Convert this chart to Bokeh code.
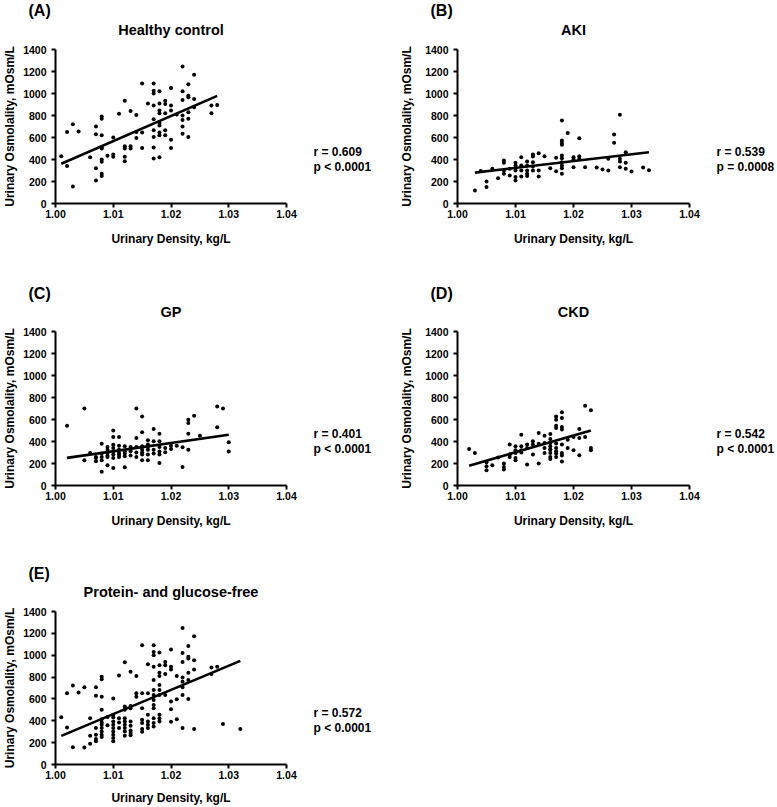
from bokeh.plotting import figure
from bokeh.models import Range1d, FixedTicker, PrintfTickFormatter
from bokeh.core.properties import value
from bokeh.layouts import column, row
from bokeh.embed import file_html
from bokeh.resources import INLINE

# ---------------- data ----------------
X_TICKS = [1.00, 1.01, 1.02, 1.03, 1.04]
Y_TICKS = [0, 200, 400, 600, 800, 1000, 1200, 1400]
X_LABEL = "Urinary Density, kg/L"
Y_LABEL = "Urinary Osmolality, mOsm/L"

# (A) Healthy control
hc_x = [1.001, 1.002, 1.002, 1.003, 1.003, 1.004, 1.006, 1.007, 1.007, 1.007, 1.007,
        1.008, 1.008, 1.008, 1.008, 1.008, 1.008, 1.008, 1.008, 1.008, 1.009,
        1.010, 1.010, 1.010, 1.011, 1.012, 1.012, 1.012, 1.012, 1.012,
        1.013, 1.013, 1.013, 1.014, 1.014, 1.014, 1.015, 1.015, 1.015, 1.016,
        1.017, 1.017, 1.017, 1.017, 1.017, 1.017, 1.017, 1.017, 1.017,
        1.018, 1.018, 1.018, 1.018, 1.018, 1.018, 1.018, 1.018, 1.018,
        1.019, 1.019, 1.019, 1.019, 1.019, 1.020, 1.020, 1.020, 1.020, 1.020, 1.021,
        1.022, 1.022, 1.022, 1.022, 1.022, 1.022, 1.022,
        1.023, 1.023, 1.023, 1.023, 1.023, 1.023, 1.024, 1.024, 1.024,
        1.027, 1.027, 1.028]
hc_y = [430, 340, 650, 720, 155, 655, 420, 700, 630, 320, 210,
        790, 770, 620, 510, 500, 400, 380, 270, 250, 435,
        600, 445, 425, 815, 935, 520, 500, 425, 385,
        840, 520, 500, 805, 650, 595, 1090, 645, 505, 910,
        1090, 1025, 1000, 890, 765, 665, 605, 510, 410,
        1020, 910, 845, 820, 735, 710, 645, 620, 420,
        935, 905, 820, 665, 620, 1050, 890, 845, 580, 505, 810,
        1245, 1020, 940, 800, 760, 700, 635,
        1085, 980, 965, 830, 770, 605, 1170, 950, 875,
        890, 820, 895]
hc_fit_x = [1.001, 1.028]
hc_fit_y = [361, 978]

# (B) AKI
aki_x = [1.003, 1.004, 1.005, 1.005, 1.006, 1.007, 1.008, 1.008, 1.008, 1.008, 1.009, 1.009,
         1.010, 1.010, 1.010, 1.010, 1.010, 1.010, 1.011, 1.011, 1.011, 1.011,
         1.012, 1.012, 1.012, 1.012, 1.012, 1.013, 1.013, 1.013, 1.013, 1.013,
         1.014, 1.014, 1.014, 1.015, 1.016, 1.017, 1.017,
         1.018, 1.018, 1.018, 1.018, 1.018, 1.018, 1.018, 1.018, 1.018, 1.018,
         1.019, 1.020, 1.020, 1.020, 1.021, 1.021, 1.021, 1.022, 1.024, 1.025,
         1.026, 1.026, 1.027, 1.027, 1.028, 1.028, 1.028, 1.028, 1.029, 1.029, 1.029,
         1.030, 1.032, 1.033]
aki_y = [118, 295, 200, 149, 315, 230, 391, 370, 300, 270, 315, 255,
         370, 345, 320, 300, 240, 210, 421, 345, 300, 245,
         382, 345, 300, 270, 250, 445, 427, 376, 336, 300,
         457, 300, 245, 430, 321, 415, 294,
         755, 573, 551, 533, 436, 412, 376, 345, 321, 270,
         642, 421, 400, 330, 594, 430, 406, 330, 327, 309,
         406, 300, 627, 552, 806, 406, 382, 330, 466, 370, 315,
         291, 327, 303]
aki_fit_x = [1.003, 1.033]
aki_fit_y = [281, 466]

# (C) GP
gp_x = [1.002, 1.005, 1.005, 1.006, 1.007, 1.007, 1.007,
        1.008, 1.008, 1.008, 1.008, 1.008,
        1.009, 1.009, 1.009, 1.009, 1.009, 1.009,
        1.010, 1.010, 1.010, 1.010, 1.010, 1.010, 1.010, 1.010,
        1.011, 1.011, 1.011, 1.011, 1.011, 1.011,
        1.012, 1.012, 1.012, 1.012, 1.012,
        1.013, 1.013, 1.013, 1.013,
        1.014, 1.014, 1.014, 1.014, 1.014,
        1.015, 1.015, 1.015, 1.015, 1.015, 1.015, 1.015,
        1.016, 1.016, 1.016, 1.016, 1.016, 1.016,
        1.017, 1.017, 1.017, 1.017,
        1.018, 1.018, 1.018, 1.018, 1.018, 1.018,
        1.019, 1.019, 1.020, 1.020, 1.021, 1.022, 1.022,
        1.023, 1.023, 1.023, 1.023, 1.024, 1.025,
        1.028, 1.028, 1.029, 1.030, 1.030]
gp_y = [544, 701, 230, 296, 260, 220, 250,
        380, 260, 230, 124, 290,
        350, 326, 296, 260, 184, 270,
        501, 441, 370, 341, 311, 281, 251, 160,
        441, 362, 326, 296, 260, 280,
        356, 311, 266, 166, 290,
        350, 311, 272, 330,
        701, 432, 350, 260, 300,
        628, 483, 356, 326, 281, 230, 300,
        411, 372, 326, 281, 230, 350,
        514, 402, 326, 290,
        471, 402, 350, 281, 205, 310,
        341, 302, 362, 332, 362, 347, 169,
        598, 568, 471, 326, 634, 453,
        719, 529, 701, 393, 308]
gp_fit_x = [1.002, 1.030]
gp_fit_y = [251, 462]

# (D) CKD
ckd_x = [1.002, 1.003, 1.005, 1.005, 1.005, 1.006, 1.007,
         1.008, 1.008, 1.008, 1.009, 1.009, 1.009,
         1.010, 1.010, 1.010, 1.010, 1.010,
         1.011, 1.011, 1.011, 1.011, 1.012, 1.012, 1.012,
         1.013, 1.013, 1.013, 1.014, 1.014, 1.014,
         1.015, 1.015, 1.015, 1.015,
         1.016, 1.016, 1.016, 1.016, 1.016, 1.016, 1.016, 1.016, 1.016,
         1.017, 1.017, 1.017, 1.017, 1.017, 1.017, 1.017, 1.017, 1.017,
         1.018, 1.018, 1.018, 1.018, 1.018, 1.018, 1.018, 1.018,
         1.019, 1.019, 1.020, 1.020, 1.021, 1.021, 1.021,
         1.022, 1.022, 1.023, 1.023, 1.023]
ckd_y = [332, 296, 211, 175, 139, 184, 254,
         199, 169, 145, 372, 281, 260,
         356, 320, 296, 251, 230,
         462, 356, 320, 300, 372, 341, 190,
         402, 372, 281, 477, 380, 199,
         453, 387, 341, 296,
         468, 423, 387, 356, 330, 326, 296, 260, 242,
         628, 598, 544, 523, 381, 341, 311, 290, 260,
         665, 613, 532, 508, 372, 296, 272, 218,
         417, 341, 441, 320, 514, 432, 275,
         725, 441, 683, 341, 320]
ckd_fit_x = [1.002, 1.023]
ckd_fit_y = [180, 501]

# (E) Protein- and glucose-free
pg_x = [1.001, 1.002, 1.002, 1.003, 1.003, 1.004, 1.005, 1.005, 1.006, 1.006, 1.006,
        1.007, 1.007, 1.007, 1.007, 1.007, 1.007,
        1.008, 1.008, 1.008, 1.008, 1.008, 1.008, 1.008, 1.008, 1.008, 1.008, 1.008,
        1.009, 1.009,
        1.010, 1.010, 1.010, 1.010, 1.010, 1.010, 1.010, 1.010, 1.010, 1.010,
        1.011, 1.011, 1.011, 1.011,
        1.012, 1.012, 1.012, 1.012, 1.012, 1.012, 1.012, 1.012, 1.012,
        1.013, 1.013, 1.013, 1.013, 1.013, 1.013, 1.013, 1.013,
        1.014, 1.014, 1.014,
        1.015, 1.015, 1.015, 1.015, 1.015, 1.015, 1.015,
        1.016, 1.016, 1.016, 1.016, 1.016, 1.016,
        1.017, 1.017, 1.017, 1.017, 1.017, 1.017, 1.017, 1.017, 1.017, 1.017, 1.017, 1.017, 1.017,
        1.018, 1.018, 1.018, 1.018, 1.018, 1.018, 1.018, 1.018, 1.018, 1.018,
        1.019, 1.019, 1.019, 1.019,
        1.020, 1.020, 1.020, 1.020, 1.020, 1.020,
        1.021, 1.021, 1.021,
        1.022, 1.022, 1.022, 1.022, 1.022, 1.022, 1.022, 1.022,
        1.023, 1.023, 1.023, 1.023, 1.023, 1.023,
        1.024, 1.024, 1.024, 1.024,
        1.027, 1.027, 1.028, 1.029, 1.032]
pg_y = [433, 339, 652, 724, 158, 658, 706, 155, 424, 264, 191,
        706, 630, 333, 273, 233, 212,
        803, 779, 621, 500, 415, 385, 364, 333, 303, 273, 252,
        435, 360,
        603, 455, 433, 394, 364, 333, 303, 273, 242, 212,
        815, 424, 385, 333,
        936, 530, 500, 424, 394, 364, 333, 303, 264,
        848, 536, 515, 394, 355, 312, 288, 267,
        809, 652, 621,
        1091, 652, 515, 409, 379, 324, 300,
        918, 652, 455, 394, 364, 333,
        1091, 1030, 1000, 894, 773, 682, 636, 591, 545, 515, 424, 379, 348,
        1024, 909, 839, 809, 727, 682, 636, 455, 424, 394,
        939, 909, 827, 636,
        1052, 894, 870, 576, 506, 391,
        809, 597, 415,
        1248, 1021, 939, 797, 758, 706, 636, 333,
        1085, 985, 970, 839, 773, 600,
        1173, 955, 870, 324,
        888, 827, 894, 370, 324]
pg_fit_x = [1.001, 1.032]
pg_fit_y = [262, 948]

# ---------------- drawing ----------------
FONT = "Liberation Sans"
FRAME_W, FRAME_H = 232, 154


def add_text(p, x, y, txt, size, align, baseline, dx, dy):
    # text placed relative to a corner of the plot frame; drawn on the overlay level
    # so that it is not clipped to the frame
    p.text(x=[x], y=[y], text=[txt], x_offset=dx, y_offset=dy,
           text_font=value(FONT), text_font_style="bold", text_font_size=size,
           text_align=align, text_baseline=baseline, text_color="black",
           level="overlay")


def panel(xs, ys, fx, fy, letter, title, r_txt, p_txt,
          width, height, left, top, xlabel_standoff, ylabel_standoff, letter_dy):
    right = width - left - FRAME_W
    bottom = height - top - FRAME_H
    p = figure(width=width, height=height,
               x_range=Range1d(X_TICKS[0], X_TICKS[-1]),
               y_range=Range1d(Y_TICKS[0], Y_TICKS[-1]),
               output_backend="svg", toolbar_location=None,
               min_border_left=left, min_border_right=right,
               min_border_top=top, min_border_bottom=bottom,
               outline_line_color=None,
               background_fill_color="white", border_fill_color="white")
    p.xgrid.visible = False
    p.ygrid.visible = False

    for ax in (p.xaxis[0], p.yaxis[0]):
        ax.axis_line_width = 2
        ax.axis_line_color = "black"
        ax.major_tick_line_width = 2
        ax.major_tick_line_color = "black"
        ax.major_tick_out = 4
        ax.major_tick_in = 0
        ax.minor_tick_line_color = None
        ax.major_label_text_font = FONT
        ax.major_label_text_font_style = "bold"
        ax.major_label_text_font_size = "10.5px"
        ax.major_label_text_color = "black"
        ax.axis_label_text_font = FONT
        ax.axis_label_text_font_style = "bold"
        ax.axis_label_text_font_size = "12px"
        ax.axis_label_text_color = "black"

    p.xaxis.ticker = FixedTicker(ticks=X_TICKS)
    p.xaxis.formatter = PrintfTickFormatter(format="%.2f")
    p.xaxis.major_label_standoff = 2
    p.xaxis.axis_label = X_LABEL
    p.xaxis.axis_label_standoff = xlabel_standoff

    p.yaxis.ticker = FixedTicker(ticks=Y_TICKS)
    p.yaxis.major_label_standoff = 5
    p.yaxis.axis_label = Y_LABEL
    p.yaxis.axis_label_standoff = ylabel_standoff

    p.line(fx, fy, line_color="black", line_width=2.6)
    p.scatter(xs, ys, size=4, fill_color="black", line_color=None)

    x0, x1 = X_TICKS[0], X_TICKS[-1]
    y0, y1 = Y_TICKS[0], Y_TICKS[-1]
    add_text(p, x0, y1, letter, "16px", "left", "alphabetic", -27, letter_dy)
    add_text(p, (x0 + x1) / 2, y1, title, "14.5px", "center", "alphabetic", 0, -20)
    add_text(p, x1, y0, r_txt, "12px", "left", "middle", 27, -52)
    add_text(p, x1, y0, p_txt, "12px", "left", "middle", 27, -37)
    return p


fA = panel(hc_x, hc_y, hc_fit_x, hc_fit_y, "(A)", "Healthy control", "r = 0.609", "p < 0.0001",
           390, 283, 54, 49, 11, 3, -39)
fB = panel(aki_x, aki_y, aki_fit_x, aki_fit_y, "(B)", "AKI", "r = 0.539", "p = 0.0008",
           387, 283, 67, 49, 11, 8, -39)
fC = panel(gp_x, gp_y, gp_fit_x, gp_fit_y, "(C)", "GP", "r = 0.401", "p < 0.0001",
           390, 280, 54, 48, 11, 3, -38)
fD = panel(ckd_x, ckd_y, ckd_fit_x, ckd_fit_y, "(D)", "CKD", "r = 0.542", "p < 0.0001",
           387, 280, 67, 48, 11, 8, -38)
fE = panel(pg_x, pg_y, pg_fit_x, pg_fit_y, "(E)", "Protein- and glucose-free", "r = 0.572", "p < 0.0001",
           390, 244, 54, 48, 9, 3, -38)

layout = column(row(fA, fB, spacing=0), row(fC, fD, spacing=0), fE, spacing=0)

with open("out.html", "w") as f:
    f.write(file_html(layout, INLINE))
